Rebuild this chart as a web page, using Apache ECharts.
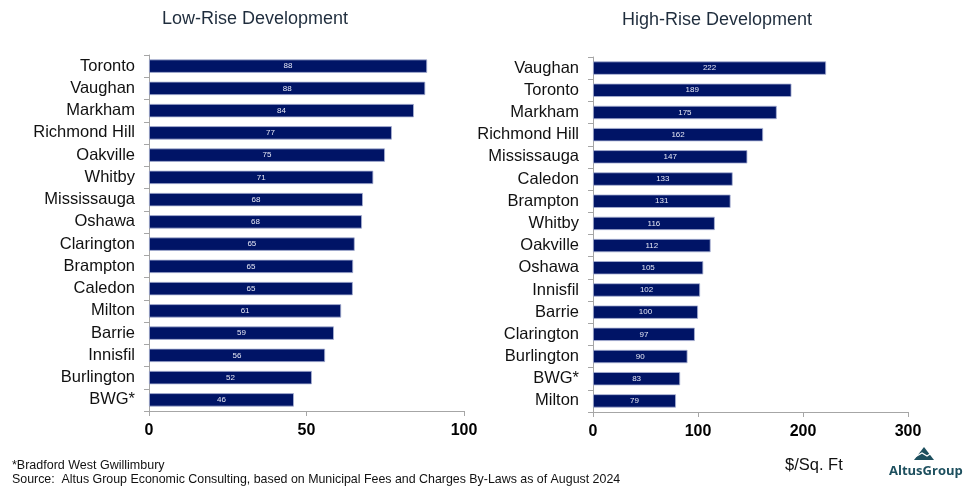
<!DOCTYPE html>
<html>
<head>
<meta charset="utf-8">
<script src="https://cdn.jsdelivr.net/npm/echarts@6/dist/echarts.min.js"></script>
<style>
  html, body { margin: 0; padding: 0; background: #fff; }
  #chart { width: 968px; height: 490px; }
</style>
</head>
<body>
<div id="chart"></div>
<script>
// low-rise, $/sq ft
var lowCities = ['Toronto', 'Vaughan', 'Markham', 'Richmond Hill', 'Oakville', 'Whitby', 'Mississauga', 'Oshawa',
  'Clarington', 'Brampton', 'Caledon', 'Milton', 'Barrie', 'Innisfil', 'Burlington', 'BWG*'];
var lowValues = [88.3, 87.7, 84.1, 77.1, 74.9, 71.2, 67.9, 67.6, 65.3, 64.8, 64.7, 61.0, 58.7, 55.9, 51.7, 46.0];

// high-rise, $/sq ft
var highCities = ['Vaughan', 'Toronto', 'Markham', 'Richmond Hill', 'Mississauga', 'Caledon', 'Brampton', 'Whitby',
  'Oakville', 'Oshawa', 'Innisfil', 'Barrie', 'Clarington', 'Burlington', 'BWG*', 'Milton'];
var highValues = [222, 189, 175, 162, 147, 133, 131, 116, 112, 105, 102, 100, 97, 90, 83, 79];

var chart = echarts.init(document.getElementById('chart'));

var barColor = '#001466';
var fontFam = 'Liberation Sans, Arial, sans-serif';

function catAxis(idx, names) {
  return {
    type: 'category',
    gridIndex: idx,
    data: names,
    inverse: true,
    axisLine: { lineStyle: { color: '#a6a6a6' } },
    axisTick: { show: true, length: 5, lineStyle: { color: '#a6a6a6' } },
    axisLabel: { color: '#111', fontSize: 16.5, fontFamily: fontFam, margin: 14 }
  };
}

function valAxis(idx, max, step) {
  return {
    type: 'value',
    gridIndex: idx,
    min: 0,
    max: max,
    interval: step,
    splitLine: { show: false },
    axisLine: { show: true, lineStyle: { color: '#a6a6a6' } },
    axisTick: { show: true, length: 5, lineStyle: { color: '#a6a6a6' } },
    axisLabel: { color: '#000', fontSize: 16, fontWeight: 'bold', fontFamily: fontFam, margin: 12 }
  };
}

function barSeries(idx, vals) {
  return {
    type: 'bar',
    xAxisIndex: idx,
    yAxisIndex: idx,
    data: vals,
    barWidth: '60%',
    itemStyle: { color: barColor, borderColor: '#aab3d4', borderWidth: 0.8 },
    label: {
      show: true,
      position: 'inside',
      color: '#e4e7f5',
      fontSize: 8,
      fontFamily: fontFam,
      formatter: function (p) { return Math.round(p.value); }
    },
    silent: true
  };
}

var option = {
  animation: false,
  title: [
    { text: 'Low-Rise Development', left: 250, top: 5, textAlign: 'center',
      textStyle: { fontSize: 18, fontWeight: 'normal', color: '#1f2d3d', fontFamily: fontFam } },
    { text: 'High-Rise Development', left: 712, top: 6, textAlign: 'center',
      textStyle: { fontSize: 18, fontWeight: 'normal', color: '#1f2d3d', fontFamily: fontFam } }
  ],
  grid: [
    { left: 149, right: 504, top: 55, bottom: 79 },
    { left: 593, right: 60, top: 57, bottom: 78 }
  ],
  xAxis: [valAxis(0, 100, 50), valAxis(1, 300, 100)],
  yAxis: [catAxis(0, lowCities), catAxis(1, highCities)],
  series: [barSeries(0, lowValues), barSeries(1, highValues)],
  graphic: [
    { type: 'text', left: 12, top: 459,
      style: { text: '*Bradford West Gwillimbury', fill: '#111', fontSize: 12.5, fontFamily: fontFam } },
    { type: 'text', left: 12, top: 474,
      style: { text: 'Source:  Altus Group Economic Consulting, based on Municipal Fees and Charges By-Laws as of August 2024',
        fill: '#111', fontSize: 12.4, fontFamily: fontFam } },
    { type: 'text', left: 785, top: 457,
      style: { text: '$/Sq. Ft', fill: '#111', fontSize: 16.5, fontFamily: fontFam } },
    // logo mark
    { type: 'polygon', shape: { points: [[914, 460], [924, 447], [934, 460]] },
      style: { fill: '#1d4f5e' } },
    { type: 'polyline', shape: { points: [[915, 457], [922, 453], [927, 456], [933, 452]] },
      style: { stroke: '#fff', lineWidth: 1.3, fill: null } },
    { type: 'text', left: 889, top: 465,
      style: { text: 'AltusGroup', fill: '#1d4f5e', fontSize: 13, fontWeight: 'bold', fontFamily: 'Open Sans, sans-serif' } }
  ]
};

chart.setOption(option);
</script>
</body>
</html>
